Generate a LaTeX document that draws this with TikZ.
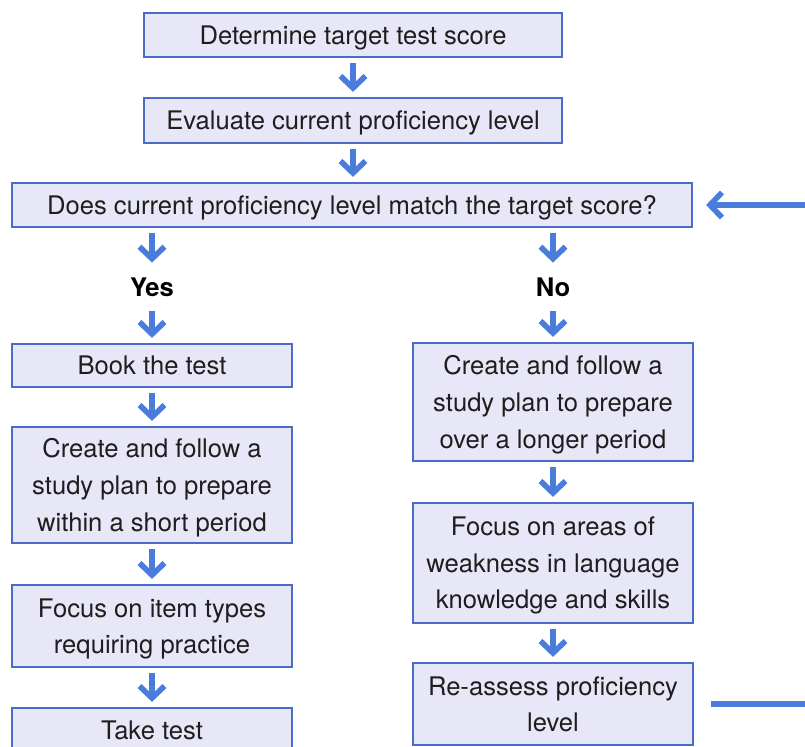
\documentclass[tikz,border=0pt]{standalone}
\usepackage{fontspec}
\setmainfont{TeX Gyre Heros}
\usetikzlibrary{arrows.meta}
\definecolor{boxblue}{RGB}{72,108,200}
\definecolor{boxfill}{RGB}{231,231,247}
\definecolor{arrowblue}{RGB}{74,124,220}
\definecolor{textgray}{RGB}{30,30,30}

\begin{document}
\begin{tikzpicture}[x=0.5pt,y=0.5pt,
		stepbox/.style={draw=boxblue,fill=boxfill,line width=1.1pt,align=center,text=textgray,
			font=\fontsize{12.8}{18.3}\selectfont,inner sep=0pt,text depth=0pt},
		answer/.style={font=\fontsize{12.8}{15}\selectfont\bfseries,minimum height=19pt,inner sep=0pt},
		flow/.style={arrowblue,line width=2.8pt,-{Straight Barb[length=6pt,width=12.5pt]},
			shorten <=2.5pt,shorten >=2.5pt}]
		\useasboundingbox (0,0) rectangle (805,-747);
		\clip (0,0) rectangle (805,-747);
		% top of the chart
		\node[stepbox,minimum width=209pt,minimum height=22pt] (target) at (353,-35) {Determine target test score};
		\node[stepbox,minimum width=209pt,minimum height=22.5pt] (evaluate) at (353,-120.5) {Evaluate current proficiency level};
		\node[stepbox,minimum width=340pt,minimum height=22pt] (match) at (352,-205) {Does current proficiency level match the target score?};
		\node[answer] (yes) at (152,-287) {Yes};
		\node[answer] (no) at (553,-287) {No};
		%
		% yes branch
		\node[stepbox,minimum width=140pt,minimum height=21.5pt] (book) at (152,-365.5) {Book the test};
		\node[stepbox,minimum width=140pt,minimum height=58pt] (short) at (152,-485) {Create and follow a\\study plan to prepare\\within a short period};
		\node[stepbox,minimum width=140pt,minimum height=41pt] (items) at (152,-626) {Focus on item types\\requiring practice};
		\node[stepbox,minimum width=140pt,minimum height=22pt] (take) at (152,-730) {Take test};
		%
		% no branch
		\node[stepbox,minimum width=140pt,minimum height=59pt] (long) at (553,-402) {Create and follow a\\study plan to prepare\\over a longer period};
		\node[stepbox,minimum width=140pt,minimum height=60pt] (weak) at (553,-563) {Focus on areas of\\weakness in language\\knowledge and skills};
		\node[stepbox,minimum width=140pt,minimum height=41pt] (reassess) at (553,-704) {Re-assess proficiency\\level};
		%
		\draw[flow] (target) -- (evaluate);
		\draw[flow] (evaluate.south) -- (evaluate.south |- match.north);
		\draw[flow] (match.south -| yes) -- (yes);
		\draw[flow] (match.south -| no) -- (no);
		%
		\draw[flow] (yes) -- (book);
		\draw[flow] (book) -- (short);
		\draw[flow] (short) -- (items);
		\draw[flow] (items) -- (take);
		%
		\draw[flow] (no) -- (long);
		\draw[flow] (long) -- (weak);
		\draw[flow] (weak) -- (reassess);
		%
		\draw[flow,shorten <=8.5pt,shorten >=6.5pt] (reassess.east) -- ++(140,0) |- (match.east);
	\end{tikzpicture}
\end{document}
